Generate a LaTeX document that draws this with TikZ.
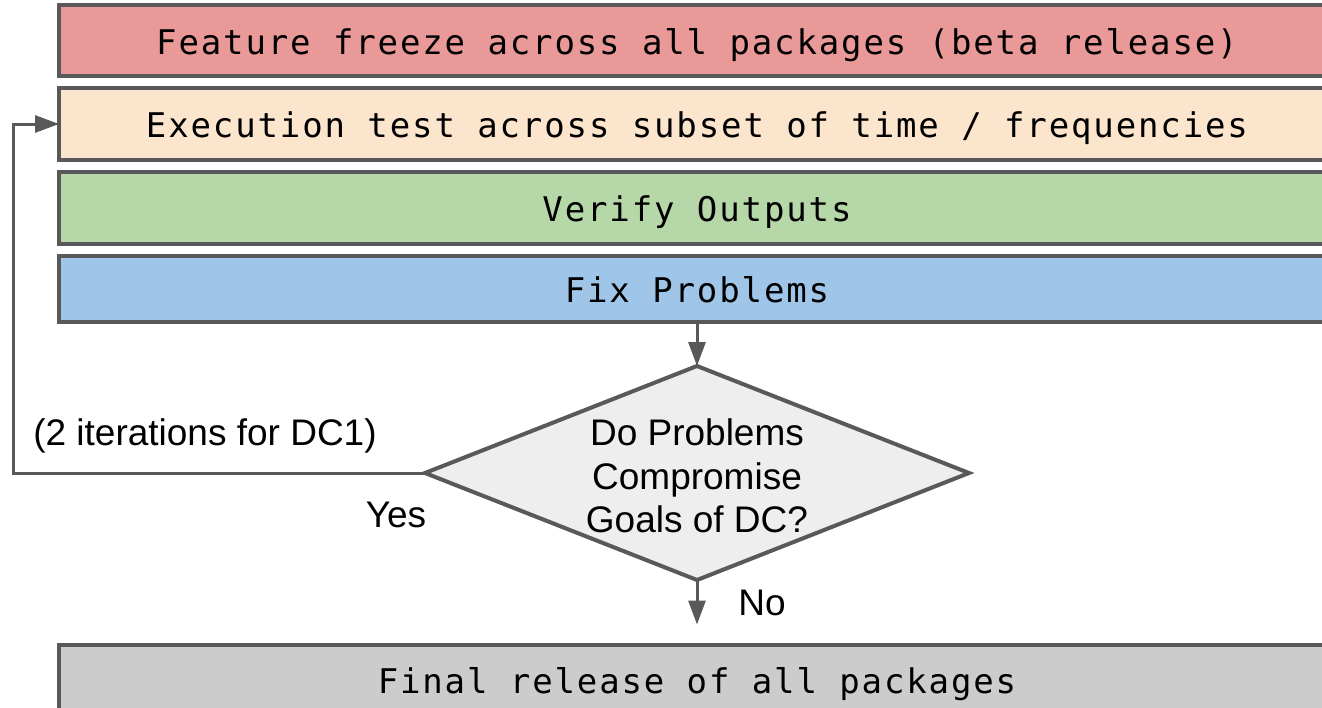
\documentclass[tikz,border=0pt]{standalone}
\usepackage{fontspec}
\setmainfont{Liberation Sans}
\newfontfamily\boxfont{DejaVu Sans Mono}[LetterSpace=5.5]
\usetikzlibrary{arrows.meta,shapes.geometric}
\definecolor{cRed}{HTML}{EA9999}
\definecolor{cOrange}{HTML}{FCE5CD}
\definecolor{cGreen}{HTML}{B6D7A8}
\definecolor{cBlue}{HTML}{9FC5E8}
\definecolor{cGray}{HTML}{CCCCCC}
\definecolor{cDia}{HTML}{EEEEEE}
\definecolor{cLine}{HTML}{595959}
\begin{document}
\begin{tikzpicture}[x=1pt,y=-1pt,
  stage/.style={draw=cLine,line width=4pt,minimum width=1276pt,inner sep=0pt,outer sep=0pt,
    font=\boxfont\fontsize{34}{40}\selectfont,text=black,text height=27pt,text depth=0pt},
  decision/.style={diamond,draw=cLine,fill=cDia,line width=4pt,inner sep=0pt,outer sep=0pt,
    minimum width=544pt,minimum height=214pt},
  label/.style={font=\fontsize{37}{43.5}\selectfont,text=black,inner sep=0pt},
  conn/.style={draw=cLine,line width=3pt},
  arr/.style={conn,-{Triangle[length=24pt,width=17pt]}}
]
\useasboundingbox (0,0) rectangle (1322,707);
\clip (0,0) rectangle (1322,707);
\fill[white] (0,0) rectangle (1322,707);

\node[stage,fill=cRed,minimum height=71pt] (freeze) at (697,40.5) {Feature freeze across all packages (beta release)};
\node[stage,fill=cOrange,minimum height=72pt] (exec) at (697,124) {Execution test across subset of time / frequencies};
\node[stage,fill=cGreen,minimum height=72pt] (verify) at (697,208) {Verify Outputs};
\node[stage,fill=cBlue,minimum height=66pt] (fix) at (697,289) {Fix Problems};
\node[stage,fill=cGray,minimum height=71pt] (final) at (697,680) {Final release of all packages};

\node[decision] (dec) at (697,473) {};
\node[label,align=center] (dectext) at (697,476) {Do Problems\\Compromise\\Goals of DC?};

\coordinate (turn) at (13,473);
\draw[arr] (fix.south) -- (dec.north);
\draw[arr,shorten >=20pt] (dec.south) -- (final.north);
\draw[arr] (dec.west) -- (turn) |- (exec.west);

\node[label,anchor=base] (iter) at (205,445) {(2 iterations for DC1)};
\node[label,anchor=base] (yes) at (396,527) {Yes};
\node[label,anchor=base] (no) at (762,615) {No};
\end{tikzpicture}
\end{document}
